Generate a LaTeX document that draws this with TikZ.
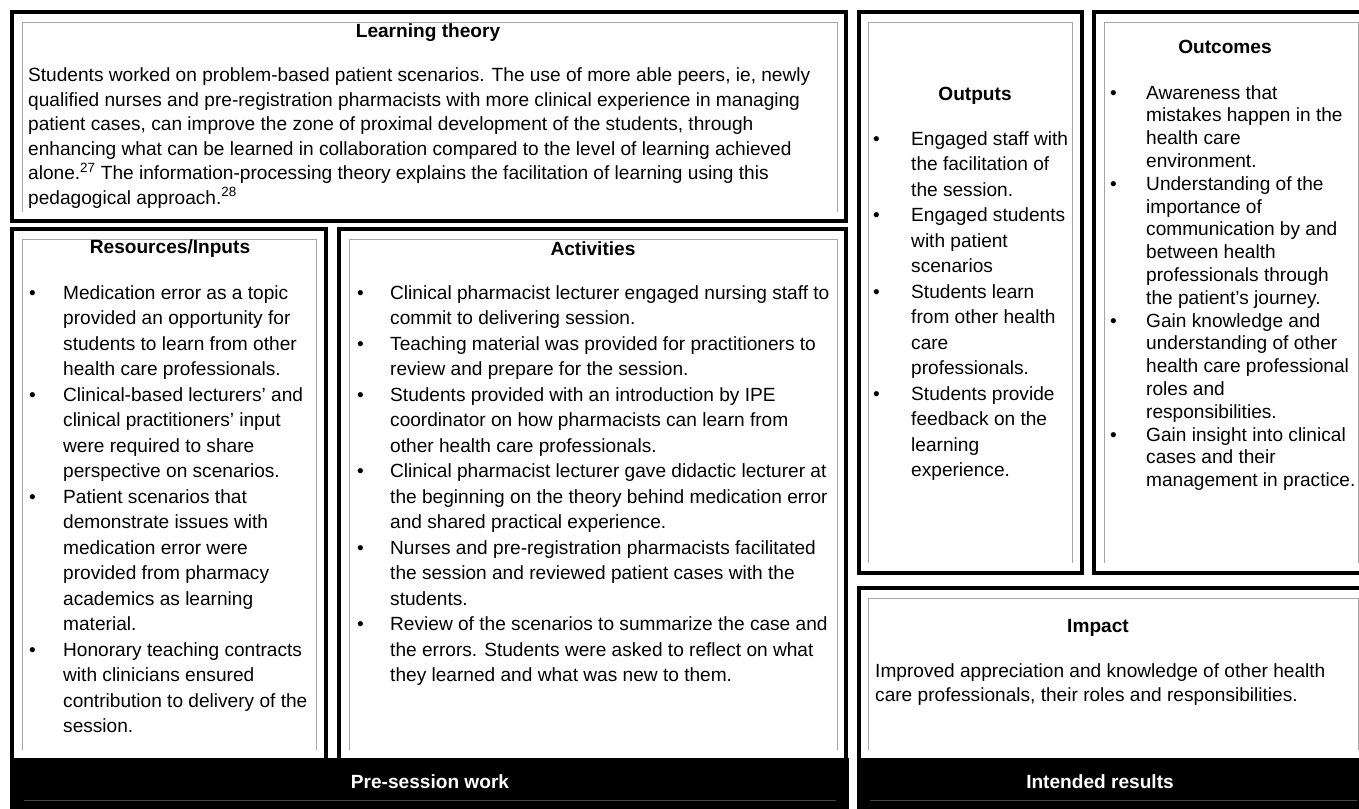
\documentclass[tikz,border=0pt]{standalone}
\usepackage{fontspec}
\setmainfont{Liberation Sans}
\pgfdeclarelayer{edgelayer}
\pgfdeclarelayer{nodelayer}
\pgfsetlayers{edgelayer,nodelayer,main}
\tikzstyle{none} = []
\tikzstyle{frame} = [draw=black, line width=3.8pt]
\tikzstyle{inner frame} = [draw=black!35, line width=0.9pt]
\tikzstyle{band} = [draw=black, fill=black]
\tikzstyle{band rule} = [draw=black!72, line width=1pt]
\tikzstyle{heading} = [font=\bfseries\fontsize{19.1}{22}\selectfont, inner sep=0pt]
\tikzstyle{band heading} = [heading, text=white]
\tikzstyle{body} = [font=\fontsize{19.1}{25.5}\selectfont, align=left, anchor=north west, inner sep=0pt]
\tikzstyle{tight body} = [body, font=\fontsize{19.1}{22.8}\selectfont]
\tikzstyle{para body} = [body, font=\fontsize{19.1}{24.5}\selectfont]
\tikzstyle{line body} = [body, font=\fontsize{19.1}{24}\selectfont]

\begin{document}
\begin{tikzpicture}[x=1pt, y=-1pt]
	\useasboundingbox (0, 0) rectangle (1359, 808);
	\begin{pgfonlayer}{nodelayer}
		% outer corners
		\node [style=none] (0) at (12, 12) {};
		\node [style=none] (1) at (846, 221) {};
		\node [style=none] (2) at (12, 229) {};
		\node [style=none] (3) at (326, 760) {};
		\node [style=none] (4) at (339, 229) {};
		\node [style=none] (5) at (846, 760) {};
		\node [style=none] (6) at (859, 12) {};
		\node [style=none] (7) at (1082, 573) {};
		\node [style=none] (8) at (1094, 12) {};
		\node [style=none] (9) at (1370, 573) {};
		\node [style=none] (10) at (859, 588) {};
		\node [style=none] (11) at (1370, 760) {};
		\node [style=none] (12) at (10, 758) {};
		\node [style=none] (13) at (848, 815) {};
		\node [style=none] (14) at (857, 758) {};
		\node [style=none] (15) at (1370, 815) {};
		% inner corners
		\node [style=none] (16) at (22, 212) {};
		\node [style=none] (17) at (837, 22) {};
		\node [style=none] (18) at (837, 212) {};
		\node [style=none] (19) at (22, 750) {};
		\node [style=none] (20) at (316, 239) {};
		\node [style=none] (21) at (316, 750) {};
		\node [style=none] (22) at (349, 750) {};
		\node [style=none] (23) at (837, 239) {};
		\node [style=none] (24) at (837, 750) {};
		\node [style=none] (25) at (868, 563) {};
		\node [style=none] (26) at (1072, 22) {};
		\node [style=none] (27) at (1072, 563) {};
		\node [style=none] (28) at (1104, 563) {};
		\node [style=none] (29) at (1358, 22) {};
		\node [style=none] (30) at (1358, 563) {};
		\node [style=none] (31) at (868, 750) {};
		\node [style=none] (32) at (1358, 598) {};
		\node [style=none] (33) at (1358, 750) {};
		\node [style=none] (34) at (24, 800) {};
		\node [style=none] (35) at (836, 800) {};
		\node [style=none] (36) at (870, 800) {};
		\node [style=none] (37) at (1357, 800) {};
		% headings
		\node [style=heading] (38) at (428, 33) {Learning theory};
		\node [style=heading] (39) at (170, 249) {Resources/Inputs};
		\node [style=heading] (40) at (593, 249) {Activities};
		\node [style=heading] (41) at (975, 96) {Outputs};
		\node [style=heading] (42) at (1225, 47) {Outcomes};
		\node [style=heading] (43) at (1098, 628) {Impact};
		\node [style=band heading] (44) at (430, 782) {Pre-session work};
		\node [style=band heading] (45) at (1100, 782) {Intended results};
		% learning theory
		\node [style=para body] (46) at (28, 64.6) {\strut Students worked on problem-based patient scenarios. The use of more able peers, ie, newly\\qualified nurses and pre-registration pharmacists with more clinical experience in managing\\patient cases, can improve the zone of proximal development of the students, through\\enhancing what can be learned in collaboration compared to the level of learning achieved\\alone.\textsuperscript{27} The information-processing theory explains the facilitation of learning using this\\pedagogical approach.\textsuperscript{28}};
		% resources
		\node [style=body] (47) at (29, 281) {\strut\textbullet};
		\node [style=body] (48) at (63, 281) {\strut Medication error as a topic\\provided an opportunity for\\students to learn from other\\health care professionals.};
		\node [style=body] (49) at (29, 383) {\strut\textbullet};
		\node [style=body] (50) at (63, 383) {\strut Clinical-based lecturers’ and\\clinical practitioners’ input\\were required to share\\perspective on scenarios.};
		\node [style=body] (51) at (29, 485) {\strut\textbullet};
		\node [style=body] (52) at (63, 485) {\strut Patient scenarios that\\demonstrate issues with\\medication error were\\provided from pharmacy\\academics as learning\\material.};
		\node [style=body] (53) at (29, 638) {\strut\textbullet};
		\node [style=body] (54) at (63, 638) {\strut Honorary teaching contracts\\with clinicians ensured\\contribution to delivery of the\\session.};
		% activities
		\node [style=body] (55) at (357, 281) {\strut\textbullet};
		\node [style=body] (56) at (390, 281) {\strut Clinical pharmacist lecturer engaged nursing staff to\\commit to delivering session.};
		\node [style=body] (57) at (357, 332) {\strut\textbullet};
		\node [style=body] (58) at (390, 332) {\strut Teaching material was provided for practitioners to\\review and prepare for the session.};
		\node [style=body] (59) at (357, 383) {\strut\textbullet};
		\node [style=body] (60) at (390, 383) {\strut Students provided with an introduction by IPE\\coordinator on how pharmacists can learn from\\other health care professionals.};
		\node [style=body] (61) at (357, 459.5) {\strut\textbullet};
		\node [style=body] (62) at (390, 459.5) {\strut Clinical pharmacist lecturer gave didactic lecturer at\\the beginning on the theory behind medication error\\and shared practical experience.};
		\node [style=body] (63) at (357, 536) {\strut\textbullet};
		\node [style=body] (64) at (390, 536) {\strut Nurses and pre-registration pharmacists facilitated\\the session and reviewed patient cases with the\\students.};
		\node [style=body] (65) at (357, 612.5) {\strut\textbullet};
		\node [style=body] (66) at (390, 612.5) {\strut Review of the scenarios to summarize the case and\\the errors. Students were asked to reflect on what\\they learned and what was new to them.};
		% outputs
		\node [style=body] (67) at (873, 127) {\strut\textbullet};
		\node [style=body] (68) at (911, 127) {\strut Engaged staff with\\the facilitation of\\the session.};
		\node [style=body] (69) at (873, 203.5) {\strut\textbullet};
		\node [style=body] (70) at (911, 203.5) {\strut Engaged students\\with patient\\scenarios};
		\node [style=body] (71) at (873, 280) {\strut\textbullet};
		\node [style=body] (72) at (911, 280) {\strut Students learn\\from other health\\care\\professionals.};
		\node [style=body] (73) at (873, 382) {\strut\textbullet};
		\node [style=body] (74) at (911, 382) {\strut Students provide\\feedback on the\\learning\\experience.};
		% outcomes
		\node [style=tight body] (75) at (1110, 83) {\strut\textbullet};
		\node [style=tight body] (76) at (1146, 83) {\strut Awareness that\\mistakes happen in the\\health care\\environment.};
		\node [style=tight body] (77) at (1110, 174.2) {\strut\textbullet};
		\node [style=tight body] (78) at (1146, 174.2) {\strut Understanding of the\\importance of\\communication by and\\between health\\professionals through\\the patient’s journey.};
		\node [style=tight body] (79) at (1110, 311) {\strut\textbullet};
		\node [style=tight body] (80) at (1146, 311) {\strut Gain knowledge and\\understanding of other\\health care professional\\roles and\\responsibilities.};
		\node [style=tight body] (81) at (1110, 425) {\strut\textbullet};
		\node [style=tight body] (82) at (1146, 425) {\strut Gain insight into clinical\\cases and their\\management in practice.};
		% impact
		\node [style=line body] (83) at (875, 660) {\strut Improved appreciation and knowledge of other health\\care professionals, their roles and responsibilities.};
	\end{pgfonlayer}
	\begin{pgfonlayer}{edgelayer}
		\draw [style=band] (12.center) rectangle (13.center);
		\draw [style=band] (14.center) rectangle (15.center);
		\draw [style=frame] (0.center) rectangle (1.center);
		\draw [style=frame] (2.center) rectangle (3.center);
		\draw [style=frame] (4.center) rectangle (5.center);
		\draw [style=frame] (6.center) rectangle (7.center);
		\draw [style=frame] (8.center) rectangle (9.center);
		\draw [style=frame] (10.center) rectangle (11.center);
		\draw [style=inner frame] (16.center) |- (17.center) -- (18.center);
		\draw [style=inner frame] (19.center) |- (20.center) -- (21.center);
		\draw [style=inner frame] (22.center) |- (23.center) -- (24.center);
		\draw [style=inner frame] (25.center) |- (26.center) -- (27.center);
		\draw [style=inner frame] (28.center) |- (29.center) -- (30.center);
		\draw [style=inner frame] (31.center) |- (32.center) -- (33.center);
		\draw [style=band rule] (34.center) to (35.center);
		\draw [style=band rule] (36.center) to (37.center);
	\end{pgfonlayer}
\end{tikzpicture}
\end{document}
